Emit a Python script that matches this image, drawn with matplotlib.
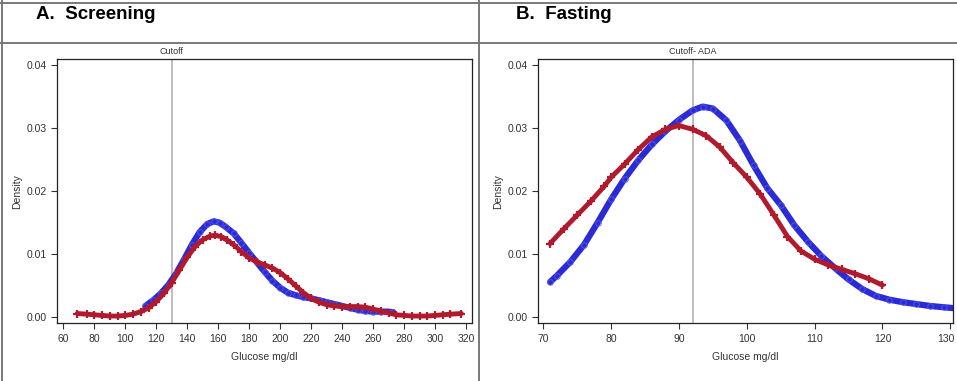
import matplotlib.pyplot as plt
import matplotlib.transforms as mtransforms
from matplotlib.lines import Line2D

plt.rcParams['font.family'] = ['Liberation Sans', 'DejaVu Sans']

# Panel A - screening glucose (kernel density)
scr_blue_x = [113, 118, 123, 128, 133, 138, 143, 148, 153, 157, 161, 165, 170, 175, 180,
              185, 190, 195, 200, 205, 210, 215, 220, 225, 230, 235, 240, 245, 250, 255,
              260, 265, 270, 273]
scr_blue_y = [0.0018, 0.0027, 0.0038, 0.0052, 0.0070, 0.0092, 0.0115, 0.0135, 0.0148, 0.0152,
              0.0150, 0.0143, 0.0133, 0.0118, 0.0102, 0.0087, 0.0072, 0.0058, 0.0047, 0.0039,
              0.0035, 0.0032, 0.0030, 0.0027, 0.0024, 0.0021, 0.0018, 0.0015, 0.0012, 0.0010,
              0.0009, 0.0009, 0.0009, 0.0008]
scr_red_x = [69, 75, 80, 85, 90, 95, 100, 105, 110, 115, 120, 125, 130, 135, 140, 145, 150,
             155, 158, 162, 166, 170, 175, 180, 185, 190, 195, 200, 205, 210, 215, 220, 225,
             230, 235, 240, 245, 250, 255, 260, 265, 270, 275, 280, 285, 290, 295, 300, 305,
             310, 317]
scr_red_y = [0.0006, 0.0005, 0.0004, 0.0003, 0.0002, 0.0002, 0.0003, 0.0005, 0.0009, 0.0015,
             0.0025, 0.0038, 0.0055, 0.0075, 0.0095, 0.0112, 0.0123, 0.0129, 0.0130, 0.0128,
             0.0122, 0.0115, 0.0104, 0.0094, 0.0088, 0.0083, 0.0078, 0.0071, 0.0061, 0.0050,
             0.0039, 0.0030, 0.0024, 0.0020, 0.0018, 0.0017, 0.0017, 0.0017, 0.0016, 0.0013,
             0.0010, 0.0007, 0.0004, 0.0003, 0.0002, 0.0002, 0.0002, 0.0003, 0.0004, 0.0005,
             0.0006]

# Panel B - fasting glucose
fast_blue_x = [71, 72, 74, 76, 78, 80, 82, 84, 86, 88, 90, 92, 93.5, 95, 97, 99, 101, 103,
               105, 107, 109, 111, 113, 115, 117, 119, 121, 123, 125, 127, 129, 131]
fast_blue_y = [0.0056, 0.0066, 0.0088, 0.0115, 0.0150, 0.0187, 0.0220, 0.0249, 0.0274, 0.0295,
               0.0313, 0.0328, 0.0334, 0.0331, 0.0312, 0.0280, 0.0241, 0.0205, 0.0178, 0.0146,
               0.0120, 0.0097, 0.0078, 0.0060, 0.0045, 0.0034, 0.0028, 0.0024, 0.0021, 0.0018,
               0.0016, 0.0014]
fast_red_x = [71, 73, 75, 77, 79, 80, 82, 84, 86, 88, 90, 92, 94, 96, 98, 100, 102, 104, 106,
              108, 110, 112, 114, 116, 118, 120]
fast_red_y = [0.0117, 0.0140, 0.0162, 0.0184, 0.0208, 0.0222, 0.0243, 0.0266, 0.0286, 0.0298,
              0.0304, 0.0298, 0.0288, 0.0270, 0.0245, 0.0222, 0.0195, 0.0162, 0.0128, 0.0105,
              0.0092, 0.0083, 0.0076, 0.0069, 0.0061, 0.0051]

BLUE = '#2b2bd6'
RED = '#b01a2c'
TXT = '#333333'

fig = plt.figure(figsize=(9.57, 3.81), dpi=100)

# table-like frame
frame_kw = dict(color='#6e6e6e', linewidth=1.3, transform=fig.transFigure)
fig.add_artist(Line2D([0, 1], [1 - 2.5 / 381, 1 - 2.5 / 381], **frame_kw))
fig.add_artist(Line2D([0, 1], [1 - 43 / 381, 1 - 43 / 381], **frame_kw))
fig.add_artist(Line2D([1.5 / 957, 1.5 / 957], [0, 1], **frame_kw))
fig.add_artist(Line2D([479 / 957, 479 / 957], [0, 1], **frame_kw))

fig.text(36 / 957, 1 - 19 / 381, 'A.  Screening', fontsize=13.5, fontweight='bold')
fig.text(516 / 957, 1 - 19 / 381, 'B.  Fasting', fontsize=13.5, fontweight='bold')


def panel(rect, bx, by, rx, ry, xlim, xticks, cutoff, cut_label):
    ax = fig.add_axes(rect)
    ax.axvline(cutoff, color='#b8b8b8', linewidth=1.3, zorder=1)
    ax.plot(bx, by, color=BLUE, linewidth=4.5, marker='o', markersize=4,
            markerfacecolor='none', markeredgecolor='#5a5ae8', markeredgewidth=0.6,
            solid_capstyle='round', zorder=2)
    ax.plot(rx, ry, color=RED, linewidth=3.5, marker='+', markersize=6,
            markeredgewidth=1.6, solid_capstyle='round', zorder=3)
    ax.set_xlim(*xlim)
    ax.set_ylim(-0.00095, 0.0409)
    ax.set_xticks(xticks)
    ax.set_yticks([0.0, 0.01, 0.02, 0.03, 0.04])
    ax.set_yticklabels(['0.00', '0.01', '0.02', '0.03', '0.04'])
    ax.tick_params(labelsize=7.5, colors=TXT, length=4, width=0.8)
    for s in ax.spines.values():
        s.set_color('#222222')
        s.set_linewidth(0.9)
    ax.set_xlabel('Glucose mg/dl', fontsize=7.5, color=TXT, labelpad=6)
    ax.set_ylabel('Density', fontsize=7.5, color=TXT, labelpad=3)
    ax.text(cutoff, 1.012, cut_label, transform=ax.get_xaxis_transform(),
            ha='center', va='bottom', fontsize=6.5, color=TXT)
    return ax


panel([57.3 / 957, 57.7 / 381, 414.4 / 957, 264 / 381],
      scr_blue_x, scr_blue_y, scr_red_x, scr_red_y,
      (56.1, 323.7), range(60, 321, 20), 130, 'Cutoff')
axb = panel([538.3 / 957, 57.7 / 381, 414.7 / 957, 264 / 381],
            fast_blue_x, fast_blue_y, fast_red_x, fast_red_y,
            (69.26, 130.4), range(70, 131, 10), 92, 'Cutoff- ADA')

# keep the last tick label inside the figure edge
last = axb.get_xticklabels()[-1]
last.set_transform(last.get_transform() +
                   mtransforms.ScaledTranslation(-4 / 100, 0, fig.dpi_scale_trans))

fig.savefig('out.png', dpi=100)
